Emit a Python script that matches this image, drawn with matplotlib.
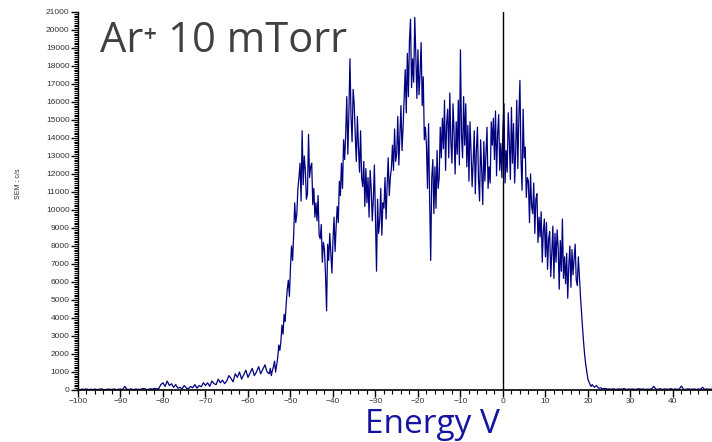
import numpy as np
import matplotlib.pyplot as plt
from matplotlib.ticker import MultipleLocator

# energy grids (V)
x_low = np.arange(-100, -55, 0.5)
x_mid = np.arange(-55, 21, 0.25)
x_tail = np.arange(21, 50, 0.5)

# SEM counts (c/s)
y_low = [
    40, 20, 50, 30, 60, 20, 40, 30, 50, 20, 40, 60, 30, 20, 50, 40, 30, 60, 20, 40,
    50, 30, 200, 40, 30, 60, 20, 50, 40, 30, 60, 80, 40, 30, 70, 50, 90, 60,
    80, 300, 400, 200, 500, 250, 350, 150, 300, 100,
    150, 60, 250, 100, 80, 200, 120, 300, 100, 250, 180, 400,
    250, 400, 200, 500, 350, 300, 600, 400, 550, 350,
    500, 800, 650, 450, 900, 700, 1000, 600, 850, 1100, 700, 950, 1200, 800, 1000, 1300, 900, 1150, 1400, 1000,
]

y_mid = [
    900, 1200, 800, 1100,        # -55
    1300, 1600, 1000, 1400,
    1800, 2500, 2200, 2700,
    3600, 3100, 4200, 3800,
    4800, 5600, 6100, 5200,
    6800, 8000, 7200, 8600,      # -50
    10400, 9300, 9800, 11200,
    11800, 12600, 10500, 14400,
    11400, 13000, 12200, 10600,
    10900, 14200, 11800, 12400,
    12600, 10300, 11200, 9600,   # -45
    10400, 9400, 10800, 8600,
    8400, 9200, 7100, 8200,
    7800, 6400, 4400, 8100,
    7200, 8700, 7600, 6500,
    8300, 9600, 7700, 9100,      # -40
    10200, 9300, 11600, 10800,
    12600, 11200, 13900, 12800,
    14200, 16300, 13100, 15400,
    18400, 15200, 13800, 16700,
    15900, 14100, 12700, 15200,  # -35
    13500, 12100, 14400, 11800,
    11300, 12700, 10200, 12300,
    10400, 11800, 9600, 12200,
    11200, 9400, 10600, 12500,
    9500, 6600, 10600, 8700,     # -30
    9400, 11200, 8600, 10400,
    10100, 11800, 9500, 11400,
    12900, 10800, 11800, 12300,
    13600, 12200, 14500, 12700,
    13100, 15200, 12500, 14100,  # -25
    15800, 13300, 14600, 16200,
    17800, 15400, 18700, 16300,
    19400, 20600, 16800, 18400,
    17100, 20700, 18600, 16200,
    18900, 16400, 17600, 19300,  # -20
    15800, 17400, 13900, 14600,
    13600, 11200, 14800, 10600,
    7200, 11800, 12800, 9800,
    12400, 10100, 13300, 11200,
    11800, 14600, 12900, 15100,  # -15
    13400, 16100, 12200, 14800,
    15600, 12900, 16500, 13800,
    12600, 15900, 14300, 12000,
    14900, 13100, 16100, 12500,
    18900, 14200, 12900, 16300,  # -10
    13600, 15900, 12400, 14700,
    11600, 14900, 13200, 11300,
    12700, 14400, 10900, 13300,
    14600, 11700, 10500, 13900,
    12200, 10300, 13800, 11600,  # -5
    13100, 14600, 11200, 12400,
    11500, 14900, 13600, 15100,
    12800, 15500, 11900, 14200,
    15300, 12200, 13700, 11800,
    14600, 15900, 11500, 13300,  # 0
    12100, 15400, 13900, 11700,
    15700, 12600, 14800, 11500,
    13200, 16100, 12300, 15200,
    17200, 12800, 11100, 15600,
    12900, 13500, 10700, 11800,  # 5
    11600, 9300, 12000, 10200,
    9800, 11500, 8700, 10600,
    10900, 8200, 9600, 8500,
    9900, 7100, 8800, 9500,
    7400, 9300, 6700, 8400,      # 10
    8800, 6300, 7600, 9100,
    6200, 8700, 7100, 8900,
    7900, 5600, 8300, 6600,
    9500, 6200, 7400, 5900,
    7600, 5100, 6900, 8000,      # 15
    5700, 7800, 6400, 7300,
    8100, 6100, 5800, 7400,
    6300, 5200, 4300, 3400,
    2600, 1900, 1400, 1000,
    600, 450, 300, 200,          # 20
]

y_tail = [
    300, 150, 250, 100, 120, 60, 90, 50,
    60, 40, 70, 30, 50, 60, 40, 80, 30, 50, 40, 60, 30, 50, 70, 40, 60, 30, 50, 40,
    60, 200, 50, 40, 70, 30, 60, 50, 40, 80, 30, 60, 40, 50, 220, 40, 30, 60, 50, 40,
    60, 30, 50, 40, 150, 30, 60, 40, 50, 30,
]

energy = np.concatenate([x_low, x_mid, x_tail])
counts = np.concatenate([y_low, y_mid, y_tail])

fig = plt.figure(figsize=(7.12, 4.42), dpi=100)
ax = fig.add_axes([78 / 712, 1 - 390 / 442, 1 - 78 / 712, (390 - 12) / 442])

ax.plot(energy, counts, color='#000080', lw=0.9)
ax.axvline(0, color='black', lw=1)

ax.set_xlim(-100, 49.2)
ax.set_ylim(0, 21000)

ax.xaxis.set_major_locator(MultipleLocator(10))
ax.xaxis.set_minor_locator(MultipleLocator(2))
ax.yaxis.set_major_locator(MultipleLocator(1000))
ax.yaxis.set_minor_locator(MultipleLocator(100))

for s in ['top', 'right']:
    ax.spines[s].set_visible(False)
ax.spines['bottom'].set_linewidth(1.2)
ax.spines['left'].set_linewidth(1.0)

ax.tick_params(axis='both', which='major', direction='out', labelsize=6,
               labelcolor='#333333', length=5, width=1)
ax.tick_params(axis='both', which='minor', direction='out', length=3, width=0.8)
for lab in ax.get_xticklabels() + ax.get_yticklabels():
    lab.set_family('Liberation Sans')
ax.tick_params(axis='x', which='major', pad=1)
ax.tick_params(axis='y', which='major', pad=1)

fig.text(19 / 712, 1 - 184 / 442, 'SEM : c/s', rotation=90, fontsize=5,
         ha='center', va='center', color='#333333', family='Liberation Sans')

fig.text(100 / 712, 1 - 52 / 442, 'Ar\u207a 10 mTorr', fontsize=30,
         color='#404040', family=['Open Sans', 'DejaVu Sans'], va='baseline')

fig.text(432 / 712, 1 - 433 / 442, 'Energy V', fontsize=24,
         color='#1414a0', family='Open Sans', ha='center', va='baseline')

fig.savefig('out.png', dpi=100)
